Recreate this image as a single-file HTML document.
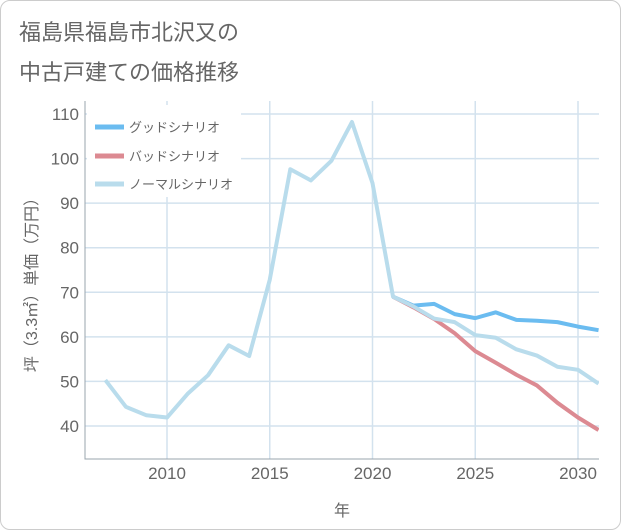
<!DOCTYPE html>
<html><head><meta charset="utf-8"><style>
body{margin:0;background:#fff;}
#wrap{position:relative;width:621px;height:530px;box-sizing:border-box;border:1px solid #ccc;border-radius:10px;overflow:hidden;font-family:"Liberation Sans","Noto Sans CJK JP",sans-serif;}
.title{position:absolute;left:18px;font-size:22px;color:#666;}
</style></head><body>
<div id="wrap">
<div class="title" style="top:14px">福島県福島市北沢又の</div>
<div class="title" style="top:54px">中古戸建ての価格推移</div>
<svg id="chart" width="621" height="530" style="position:absolute;left:0;top:0"></svg>
</div>
<script>
const years=[2007,2008,2009,2010,2011,2012,2013,2014,2015,2016,2017,2018,2019,2020,2021,2022,2023,2024,2025,2026,2027,2028,2029,2030,2031];
const normal=[50.3,44.3,42.4,41.9,47.2,51.4,58.1,55.7,72.8,97.6,95.1,99.5,108.2,94.5,69,66.8,64.1,63.3,60.4,59.8,57.2,55.8,53.3,52.6,49.5];
const goodYears=[2021,2022,2023,2024,2025,2026,2027,2028,2029,2030,2031];
const good=[69,67,67.4,65.1,64.2,65.5,63.8,63.6,63.3,62.3,61.5];
const bad=[69,66.6,64,60.8,56.8,54.2,51.5,49.1,45.2,41.9,39.1];
const xTicks=[2010,2015,2020,2025,2030];
const yTicks=[40,50,60,70,80,90,100,110];
const L=84,R=598,T=100,B=458;
const x=v=>166+(v-2010)*20.55;
const y=v=>113+(110-v)*4.457;
const svg=document.getElementById('chart');
const NS='http://www.w3.org/2000/svg';
function mk(t,a){const e=document.createElementNS(NS,t);for(const k in a)e.setAttribute(k,a[k]);svg.appendChild(e);return e;}
let e;
e=mk('rect',{x:L,y:T,width:R-L,height:B-T,fill:'#fff'});


xTicks.forEach(t=>{
 e=mk('line',{x1:x(t),x2:x(t),y1:T,y2:B,stroke:'#d3e2ee','stroke-width':1.5});
 
 
 e=mk('text',{x:x(t),y:478,'text-anchor':'middle','font-size':17,fill:'#666'});e.textContent=t;
 
 
});
yTicks.forEach(t=>{
 e=mk('line',{x1:L,x2:R,y1:y(t),y2:y(t),stroke:'#d3e2ee','stroke-width':1.5});
 
 
 e=mk('text',{x:78,y:y(t)+6,'text-anchor':'end','font-size':17,fill:'#666'});e.textContent=t;
 
 
});
e=mk('path',{d:`M${L},${T}V${B}H${R}`,stroke:'#9aa4ad',fill:'none','stroke-width':1});


function line(xs,vs,c,name){
 e=mk('polyline',{points:xs.map((v,i)=>x(v)+','+y(vs[i])).join(' '),fill:'none',stroke:c,'stroke-width':4,'stroke-linejoin':'round'});
 
 
}
const clip=mk('clipPath',{id:'c'});
const cr=document.createElementNS(NS,'rect');cr.setAttribute('x',L);cr.setAttribute('y',T);cr.setAttribute('width',R-L);cr.setAttribute('height',B-T);clip.appendChild(cr);
line(goodYears,good,'#6bbcf0','good-scenario-line');
line(goodYears,bad,'#dc8a92','bad-scenario-line');
line(years,normal,'#b9dcec','normal-scenario-line');
svg.querySelectorAll('polyline').forEach(p=>p.setAttribute('clip-path','url(#c)'));
e=mk('rect',{x:86,y:104,width:154,height:92,fill:'#fff'});


[['グッドシナリオ','#6bbcf0',126],['バッドシナリオ','#dc8a92',155],['ノーマルシナリオ','#b9dcec',183]].forEach(([t,c,yy])=>{
 e=mk('line',{x1:94,x2:123,y1:yy,y2:yy,stroke:c,'stroke-width':5});
 
 
 e=mk('text',{x:128,y:yy+5,'font-size':13,fill:'#666'});e.textContent=t;
 
 
});
e=mk('text',{x:341,y:515,'text-anchor':'middle','font-size':16,fill:'#666'});e.textContent='年';


e=mk('text',{x:0,y:0,'text-anchor':'middle','font-size':16,fill:'#666',transform:'translate(36,280) rotate(-90)'});e.textContent='坪（3.3㎡）単価（万円）';


</script>
</body></html>
